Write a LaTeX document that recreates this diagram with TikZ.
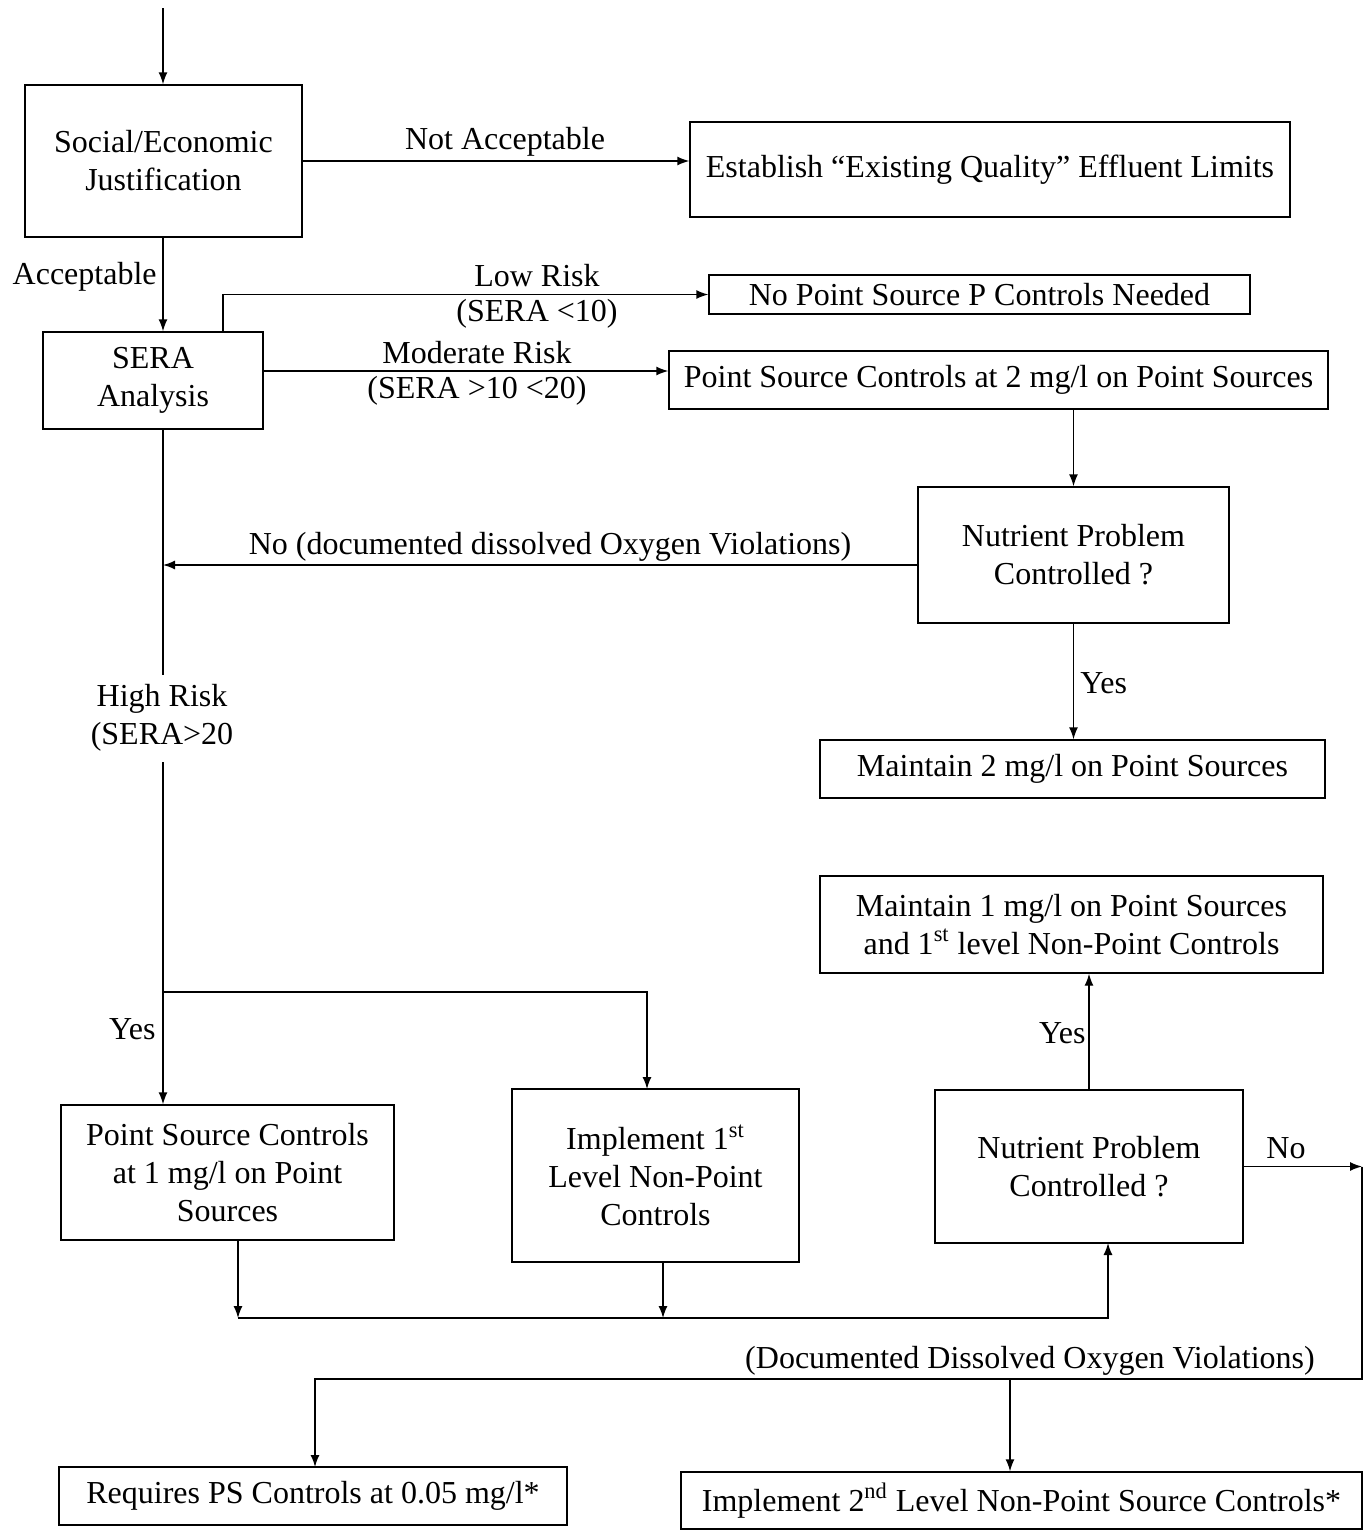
\documentclass[tikz,border=0pt]{standalone}
\usepackage{fontspec}
\setmainfont{Liberation Serif}
\usetikzlibrary{arrows.meta}
\tikzset{
  box/.style={draw, line width=0.7pt, inner sep=0pt, align=center, font=\fontsize{16}{19}\selectfont},
  lbl/.style={inner sep=0pt, align=center, font=\fontsize{16}{19}\selectfont},
  conn/.style={line width=0.7pt},
  arr/.style={conn, -{Latex[length=6pt,width=4.5pt]}}
}
\begin{document}
\begin{tikzpicture}[x=0.5pt, y=-0.5pt]
\useasboundingbox (0,0) rectangle (1367,1531);
% boxes
\node[box, minimum width=138.5pt, minimum height=76pt] (soc) at (163.5,161) {Social/Economic\\Justification};
\node[box, minimum width=300pt, minimum height=47.5pt] (est) at (990,169.5) {Establish ``Existing Quality'' Effluent Limits};
\node[box, minimum width=110pt, minimum height=48.5pt] (sera) at (153,380.5) {SERA\\Analysis};
\node[box, minimum width=270.5pt, minimum height=19.5pt] (nops) at (979.5,294.5) {No Point Source P Controls Needed};
\node[box, minimum width=329.5pt, minimum height=29pt] (ps2) at (998.5,380) {Point Source Controls at 2 mg/l on Point Sources};
\node[box, minimum width=155.5pt, minimum height=68pt] (np1) at (1073.5,555) {Nutrient Problem\\Controlled ?};
\node[box, minimum width=252.5pt, minimum height=29pt] (m2) at (1072.5,769) {Maintain 2 mg/l on Point Sources};
\node[box, minimum width=166.5pt, minimum height=67.5pt] (ps1) at (227.5,1172.5) {Point Source Controls\\at 1 mg/l on Point\\Sources};
\node[box, minimum width=143.5pt, minimum height=86.5pt] (impl1) at (655.5,1175.5) {Implement 1\textsuperscript{st}\\Level Non-Point\\Controls};
\node[box, minimum width=154pt, minimum height=76.5pt] (np2) at (1089,1166.5) {Nutrient Problem\\Controlled ?};
\node[box, minimum width=251.5pt, minimum height=48.5pt] (m1) at (1071.5,924.5) {Maintain 1 mg/l on Point Sources\\and 1\textsuperscript{st} level Non-Point Controls};
\node[box, minimum width=254pt, minimum height=29pt] (req) at (313,1496) {Requires PS Controls at 0.05 mg/l*};
\node[box, minimum width=340.5pt, minimum height=28.5pt] (impl2) at (1021.5,1500.5) {Implement 2\textsuperscript{nd} Level Non-Point Source Controls*};
% coordinates
\coordinate (start) at (163,8);
\coordinate (lr) at (223,332);
\coordinate (mr) at (263,371);
\coordinate (nol) at (918,565);
\coordinate (j1) at (163,565);
\coordinate (ms) at (163,429);
\coordinate (br) at (163,992);
\coordinate (i1t) at (647,1089);
\coordinate (p1b) at (238,1240);
\coordinate (bl) at (238,1318);
\coordinate (i1b) at (663,1262);
\coordinate (i1j) at (663,1318);
\coordinate (n2b) at (1108,1243);
\coordinate (nr) at (1362,1166.5);
\coordinate (rc) at (1362,1379);
\coordinate (bj) at (1010,1379);
\coordinate (rq) at (315,1467);
% connectors
\draw[arr] (start) -- (start |- soc.north);
\draw[arr] (soc.east) -- (est.west |- soc.east);
\draw[arr] (start |- soc.south) -- (start |- sera.north);
\draw[arr] (lr) |- (nops.west);
\draw[arr] (mr) -- (mr -| ps2.west);
\draw[arr] (np1.north |- ps2.south) -- (np1.north);
\draw[arr] (nol) -- (j1);
\draw[arr] (np1.south) -- (np1.south |- m2.north);
\draw[arr] (ms) -- (ms |- ps1.north);
\draw[arr] (br) -| (i1t);
\draw[arr] (p1b) -- (bl);
\draw[arr] (i1b) -- (i1j);
\draw[arr] (bl) -| (n2b);
\draw[arr] (np2.north) -- (np2.north |- m1.south);
\draw[arr] (np2.east) -- (nr);
\draw[arr] (nr) -- (rc) -| (rq);
\draw[arr] (bj) -- (bj |- impl2.north);
% labels
\node[lbl] (l1) at (505,142) {Not Acceptable};
\node[lbl, anchor=east] (l2) at (157,277) {Acceptable};
\node[lbl] (l3) at (537,276) {Low Risk};
\node[lbl] (l4) at (537,314) {(SERA <10)};
\node[lbl] (l5) at (477,353) {Moderate Risk};
\node[lbl] (l6) at (477,391) {(SERA >10 <20)};
\node[lbl] (l7) at (550,547) {No (documented dissolved Oxygen Violations)};
\node[lbl, anchor=west] (l8) at (1080,683) {Yes};
\node[lbl, fill=white, inner ysep=5pt, inner xsep=2pt] (l9) at (162,718) {High Risk\\(SERA>20};
\node[lbl, anchor=east] (l11) at (156,1029) {Yes};
\node[lbl, anchor=east] (l12) at (1086,1033) {Yes};
\node[lbl] (l13) at (1286,1148) {No};
\node[lbl] (l14) at (1030,1361) {(Documented Dissolved Oxygen Violations)};
\end{tikzpicture}
\end{document}
